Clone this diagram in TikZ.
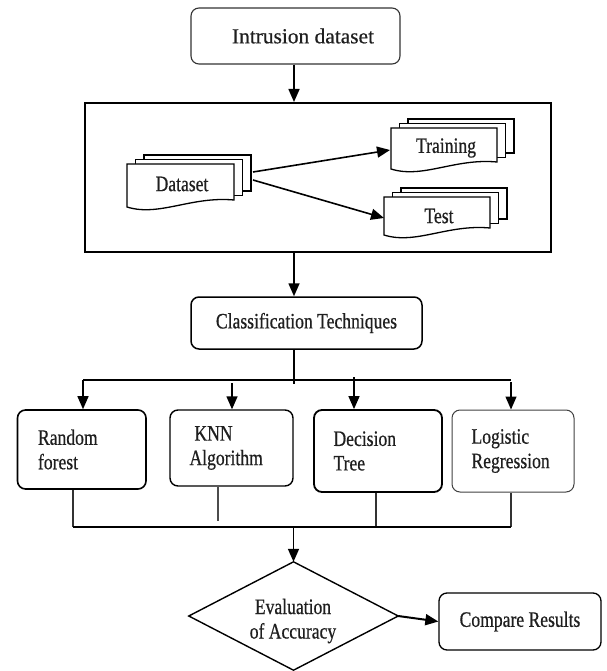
\documentclass[tikz,border=0pt]{standalone}
\usepackage{fontspec}
\setmainfont{Liberation Serif}[FakeBold=0.5]
\newfontfamily\condfont{Liberation Serif}[FakeStretch=0.8, FakeBold=0.6]
\usetikzlibrary{arrows.meta,calc}
\newcommand\docstack[4]{%
  \foreach \k in {2,1}{%
    \draw[docline, fill=white] ({#1+8.5*\k},{#2-4.5*\k}) rectangle ({#3+8.5*\k},{#4-10-4.5*\k});
  }%
  \draw[docline, fill=white] (#1,#2) -- (#3,#2) -- (#3,#4-10)
    .. controls ({#1+0.6*(#3-#1)},{#4-14}) and ({#1+0.3*(#3-#1)},{#4+7}) .. (#1,#4-3) -- cycle;
}
\begin{document}
\begin{tikzpicture}[x=1pt,y=-1pt,
  every node/.style={inner sep=0pt},
  txt/.style={font=\condfont\fontsize{22}{24.5}\selectfont, text=black!88},
  rbox/.style={draw, rounded corners=8pt, line width=1.3pt},
  algbox/.style={rbox, txt, align=left, inner xsep=19.5pt},
  docline/.style={line width=1.3pt, line join=miter},
  arr/.style={-{Triangle[length=13pt,width=11pt]}, line width=1.6pt},
  conn/.style={line width=1.3pt},
]
\useasboundingbox (0,0) rectangle (606,671);

% top box
\node[rbox, line width=1.1pt, draw=black!80, minimum width=209pt, minimum height=56pt,
      font=\fontsize{21.4}{24}\selectfont, text=black!88] (intr) at (295.5,36) {\hspace*{15pt}Intrusion dataset};
\coordinate (spine) at (294,0);

% split box
\node[draw, line width=2pt, minimum width=466pt, minimum height=149pt] (split) at (318,177.5) {};
\draw[arr] (spine |- intr.south) -- (spine |- split.north);

% document stacks
\docstack{127}{164}{234}{210}
\docstack{391}{128}{497}{172}
\docstack{384}{197}{490}{238}
\node[txt] (ds) at (182,184) {Dataset};
\node[txt] (tr) at (446,148) {Training};
\node[txt] (te) at (439,216) {Test};
\coordinate (dsA) at (253,172);
\coordinate (trIn) at (390,150);
\coordinate (dsB) at (253,180);
\coordinate (teIn) at (384,218);
\draw[arr] (dsA) -- (trIn);
\draw[arr] (dsB) -- (teIn);

% classification
\node[rbox, line width=1.5pt, txt, minimum width=231pt, minimum height=52pt] (cls) at (306.5,323) {Classification Techniques};
\draw[arr] (spine |- split.south) -- (spine |- cls.north);

% algorithm boxes
\node[algbox, line width=1.6pt, inner xsep=20.5pt, minimum width=128.5pt, minimum height=79pt, text width=87.5pt] (rf) at (81.75,449.5) {Random\\forest};
\node[algbox, line width=1.4pt, minimum width=123pt, minimum height=76pt, text width=84pt] (knn) at (231.5,448) {\hspace*{5pt}KNN\\Algorithm};
\node[algbox, line width=1.8pt, minimum width=128pt, minimum height=82pt, text width=89pt] (dt) at (378,451) {Decision\\Tree};
\node[algbox, line width=1pt, draw=black!75, minimum width=122pt, minimum height=82pt, text width=83pt] (lr) at (513,451) {Logistic\\Regression};

% branching
\coordinate (a1) at (83,380);
\coordinate (a2) at (232,383);
\coordinate (a3) at (354,377);
\coordinate (a4) at (511,382);
\draw[conn] (spine |- cls.south) -- (294,384);
\draw[line width=1.6pt] (a1) -- (a1 -| a4);
\draw[arr, line width=1.4pt] (a1) -- (a1 |- rf.north);
\draw[arr, line width=1.4pt] (a2) -- (a2 |- knn.north);
\draw[arr, line width=1.4pt] (a3) -- (a3 |- dt.north);
\draw[arr, line width=1.4pt] (a4) -- (a4 |- lr.north);

% merging
\coordinate (m1) at (73,527);
\coordinate (m2) at (218,521);
\coordinate (m3) at (376,527);
\coordinate (m4) at (511,527);
\draw[conn, line width=1.1pt, draw=black!80] (m1 |- rf.south) -- (m1);
\draw[conn, line width=1.1pt, draw=black!70] (m2 |- knn.south) -- (m2);
\draw[conn, line width=1.1pt, draw=black!80] (m3 |- dt.south) -- (m3);
\draw[conn, line width=1.1pt, draw=black!80] (m4 |- lr.south) -- (m4);
\draw[line width=1.8pt] (m1) -- (m4);

% evaluation
\node[minimum width=209pt, minimum height=108pt] (eval) at (293.5,616) {};
\draw[line width=1.4pt, line join=miter] (eval.north) -- (eval.east) -- (eval.south) -- (eval.west) -- cycle;
\node[txt, align=center] (evalt) at (293,621) {Evaluation\\of Accuracy};
\draw[arr] (m1 -| eval.north) -- (eval.north);

% compare
\node[rbox, line width=1.3pt, txt, minimum width=162pt, minimum height=57pt] (cmp) at (520,621.5) {Compare Results};
\draw[arr, line width=2pt] (eval.east) -- (cmp.west);
\end{tikzpicture}
\end{document}
